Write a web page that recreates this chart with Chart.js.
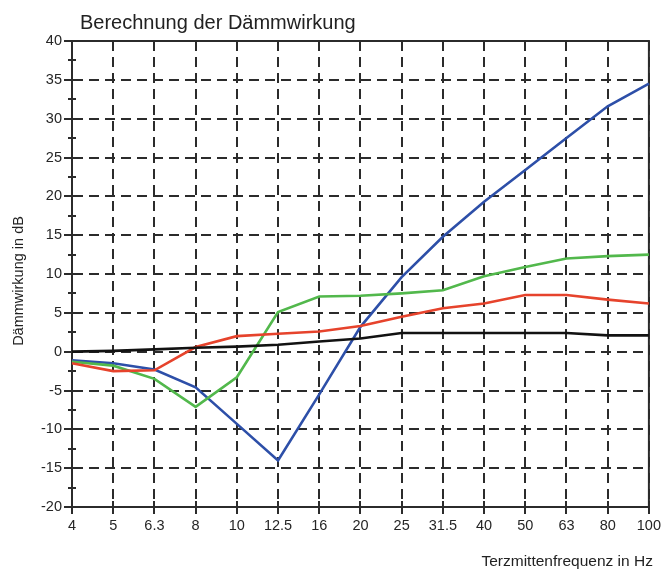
<!DOCTYPE html>
<html>
<head>
<meta charset="utf-8">
<script src="https://cdn.jsdelivr.net/npm/chart.js@4/dist/chart.umd.min.js"></script>
<style>
  html, body { margin: 0; padding: 0; background: #fff; }
  #wrap { width: 663px; height: 569px; }
</style>
</head>
<body>
<div id="wrap"><canvas id="c" width="663" height="569"></canvas></div>
<script>
// Terzband-Mittenfrequenzen (Hz)
const frequencies = ['4', '5', '6.3', '8', '10', '12.5', '16', '20', '25', '31.5', '40', '50', '63', '80', '100'];

// Dämmwirkung je Variante in dB
const seriesBlack = [0, 0.1, 0.3, 0.5, 0.65, 0.9, 1.3, 1.7, 2.4, 2.4, 2.4, 2.4, 2.4, 2.1, 2.1];
const seriesRed   = [-1.5, -2.5, -2.4, 0.6, 2.0, 2.3, 2.6, 3.3, 4.5, 5.6, 6.2, 7.3, 7.3, 6.7, 6.2];
const seriesGreen = [-1.3, -1.8, -3.5, -7.1, -3.3, 5.1, 7.1, 7.2, 7.5, 7.9, 9.7, 10.9, 12.0, 12.3, 12.5];
const seriesBlue  = [-1.1, -1.5, -2.3, -4.6, -9.3, -14.0, -5.5, 3.2, 9.6, 14.8, 19.3, 23.4, 27.5, 31.6, 34.5];

// Y-Achse
const yMin = -20;
const yMax = 40;
const yMajorStep = 5;
const yMinorStep = 2.5;

const chartTitle = 'Berechnung der Dämmwirkung';
const xTitle = 'Terzmittenfrequenz in Hz';
const yTitle = 'Dämmwirkung in dB';

const ink = '#2b2b2b';
const fontFamily = '"Liberation Sans", Arial, sans-serif';

// Rahmen, Teilstriche, Diagramm- und Achsentitel
const framePlugin = {
  id: 'frame',
  beforeDatasetsDraw(chart) {
    const { ctx, chartArea: a, scales } = chart;
    ctx.save();
    ctx.strokeStyle = ink;
    ctx.lineWidth = 2;
    ctx.setLineDash([]);
    ctx.beginPath();
    ctx.moveTo(a.left, a.top);
    ctx.lineTo(a.right, a.top);
    ctx.lineTo(a.right, a.bottom);
    ctx.stroke();

    // Teilstriche an der Y-Achse
    const y = scales.y;
    for (const t of y.ticks) {
      const py = Math.round(y.getPixelForValue(t.value));
      const major = t.value % yMajorStep === 0;
      ctx.beginPath();
      ctx.moveTo(a.left - (major ? 8 : 4), py);
      ctx.lineTo(a.left + 4, py);
      ctx.stroke();
    }
    // Teilstriche an der X-Achse
    const x = scales.x;
    x.ticks.forEach((t, i) => {
      const px = Math.round(x.getPixelForTick(i));
      ctx.beginPath();
      ctx.moveTo(px, a.bottom - 6);
      ctx.lineTo(px, a.bottom + 7);
      ctx.stroke();
    });
    ctx.restore();
  },
  afterDraw(chart) {
    const { ctx, chartArea: a } = chart;
    ctx.save();
    ctx.fillStyle = '#222';
    ctx.font = '20px ' + fontFamily;
    ctx.textAlign = 'left';
    ctx.textBaseline = 'alphabetic';
    ctx.fillText(chartTitle, a.left + 8, 29);

    ctx.font = '15.5px ' + fontFamily;
    ctx.textAlign = 'right';
    ctx.textBaseline = 'middle';
    ctx.fillText(xTitle, a.right + 4, 562);

    ctx.translate(19, 281);
    ctx.rotate(-Math.PI / 2);
    ctx.font = '14.5px ' + fontFamily;
    ctx.textAlign = 'center';
    ctx.fillText(yTitle, 0, 0);
    ctx.restore();
  }
};

const lineDs = (data, color) => ({
  data,
  borderColor: color,
  backgroundColor: color,
  borderWidth: 2.6,
  pointRadius: 0,
  tension: 0,
  fill: false
});

new Chart(document.getElementById('c'), {
  type: 'line',
  data: {
    labels: frequencies,
    datasets: [
      lineDs(seriesBlack, '#121212'),
      lineDs(seriesRed, '#e6432c'),
      lineDs(seriesGreen, '#52b84c'),
      lineDs(seriesBlue, '#2d4fa8')
    ]
  },
  options: {
    responsive: false,
    animation: false,
    devicePixelRatio: 1,
    layout: { padding: { top: 41, right: 14, left: 0, bottom: 0 } },
    plugins: {
      legend: { display: false },
      title: { display: false },
      tooltip: { enabled: false }
    },
    scales: {
      x: {
        type: 'category',
        offset: false,
        grid: {
          color: ink,
          lineWidth: 2,
          drawTicks: true,
          tickLength: 8,
          tickColor: 'rgba(0,0,0,0)'
        },
        border: { display: true, color: ink, width: 2, dash: [10, 6] },
        ticks: {
          autoSkip: false,
          maxRotation: 0,
          minRotation: 0,
          padding: 2,
          color: '#262626',
          font: { family: fontFamily, size: 14.5 }
        },
        afterFit(scale) { scale.height = 62; }
      },
      y: {
        min: yMin,
        max: yMax,
        grid: {
          color: (c) => (c.tick && c.tick.value % yMajorStep === 0) ? ink : 'rgba(0,0,0,0)',
          lineWidth: 2,
          drawTicks: true,
          tickLength: 8,
          tickColor: 'rgba(0,0,0,0)'
        },
        border: { display: true, color: ink, width: 2, dash: [10, 6] },
        ticks: {
          stepSize: yMinorStep,
          autoSkip: false,
          padding: 2,
          color: '#262626',
          font: { family: fontFamily, size: 14.5 },
          callback: (v) => (v % yMajorStep === 0 ? String(v) : '')
        },
        afterFit(scale) { scale.width = 72; }
      }
    }
  },
  plugins: [framePlugin]
});
</script>
</body>
</html>
